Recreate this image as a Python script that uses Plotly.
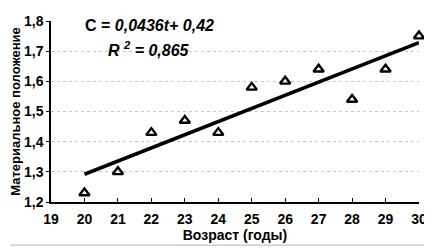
import plotly.graph_objects as go

ages = [20, 21, 22, 23, 24, 25, 26, 27, 28, 29, 30]
position = [1.23, 1.30, 1.43, 1.47, 1.43, 1.58, 1.60, 1.64, 1.54, 1.64, 1.75]
slope = 0.0436
intercept = 0.42
x_ticks = list(range(19, 31))
y_ticks = [1.2, 1.3, 1.4, 1.5, 1.6, 1.7, 1.8]

trend_x = [ages[0], ages[-1]]
trend_y = [slope * t + intercept for t in trend_x]

OFF = 8  # page body margin
W, H = 432 - OFF, 249 - OFF
L, R, T, B = 49 - OFF, 13, 13 - OFF, 47
pw, ph = W - L - R, H - T - B

fig = go.Figure()
fig.add_trace(go.Scatter(x=trend_x, y=trend_y, mode="lines",
                         line=dict(color="black", width=3.5), showlegend=False))
fig.add_trace(go.Scatter(x=ages, y=position, mode="markers",
                         marker=dict(symbol="triangle-up-open", size=9, color="black",
                                     line=dict(width=2.4, color="black")),
                         showlegend=False, cliponaxis=False))


def fx(px):  # absolute page x -> plot paper fraction
    return (px - OFF - L) / pw


def fy(py):  # absolute page y -> plot paper fraction
    return 1 - (py - OFF - T) / ph


font_b = "Liberation Sans, Arial, sans-serif"
fig.update_layout(
    width=W, height=H,
    margin=dict(l=L, r=R, t=T, b=B),
    paper_bgcolor="white", plot_bgcolor="white",
    separators=",.",
    font=dict(family=font_b, color="black"),
    xaxis=dict(range=[19, 30], tickvals=x_ticks, ticks="inside", ticklen=4,
               tickcolor="black", showline=True, linecolor="black", linewidth=1.5,
               showgrid=False, zeroline=False, ticklabeloverflow="allow",
               ticklabelstandoff=3,
               tickfont=dict(size=14, family=font_b, weight="bold"),
               title=dict(text="<b>Возраст (годы)</b>", font=dict(size=14), standoff=3)),
    yaxis=dict(range=[1.2, 1.8], tickvals=y_ticks, tickformat=".1f", ticks="outside",
               ticklen=3, tickcolor="black", showline=True, linecolor="black", linewidth=1.5,
               showgrid=True, gridcolor="#c8c8c8", griddash="dot", gridwidth=1,
               zeroline=False, ticklabeloverflow="allow",
               tickfont=dict(size=14, family=font_b, weight="bold"),
               title=dict(text="<b>Материальное положение</b>", font=dict(size=13), standoff=2)),
    annotations=[
        dict(x=fx(148), y=fy(18), xref="paper", yref="paper", showarrow=False,
             text="<b>C = <i>0,0436t+ 0,42</i></b>", font=dict(size=16),
             xanchor="center", yanchor="middle"),
        dict(x=fx(148), y=fy(42), xref="paper", yref="paper", showarrow=False,
             text="<b><i>R <sup>2</sup> = 0,865</i></b>", font=dict(size=16),
             xanchor="center", yanchor="middle"),
    ],
    shapes=[
        dict(type="line", xref="paper", yref="paper", x0=fx(428), x1=fx(428),
             y0=fy(247), y1=fy(OFF), line=dict(color="#b0b0b0", width=1), layer="below"),
        dict(type="line", xref="paper", yref="paper", x0=fx(OFF), x1=fx(428),
             y0=fy(247), y1=fy(247), line=dict(color="#b0b0b0", width=1), layer="below"),
    ],
)

fig.write_html("out.html")
